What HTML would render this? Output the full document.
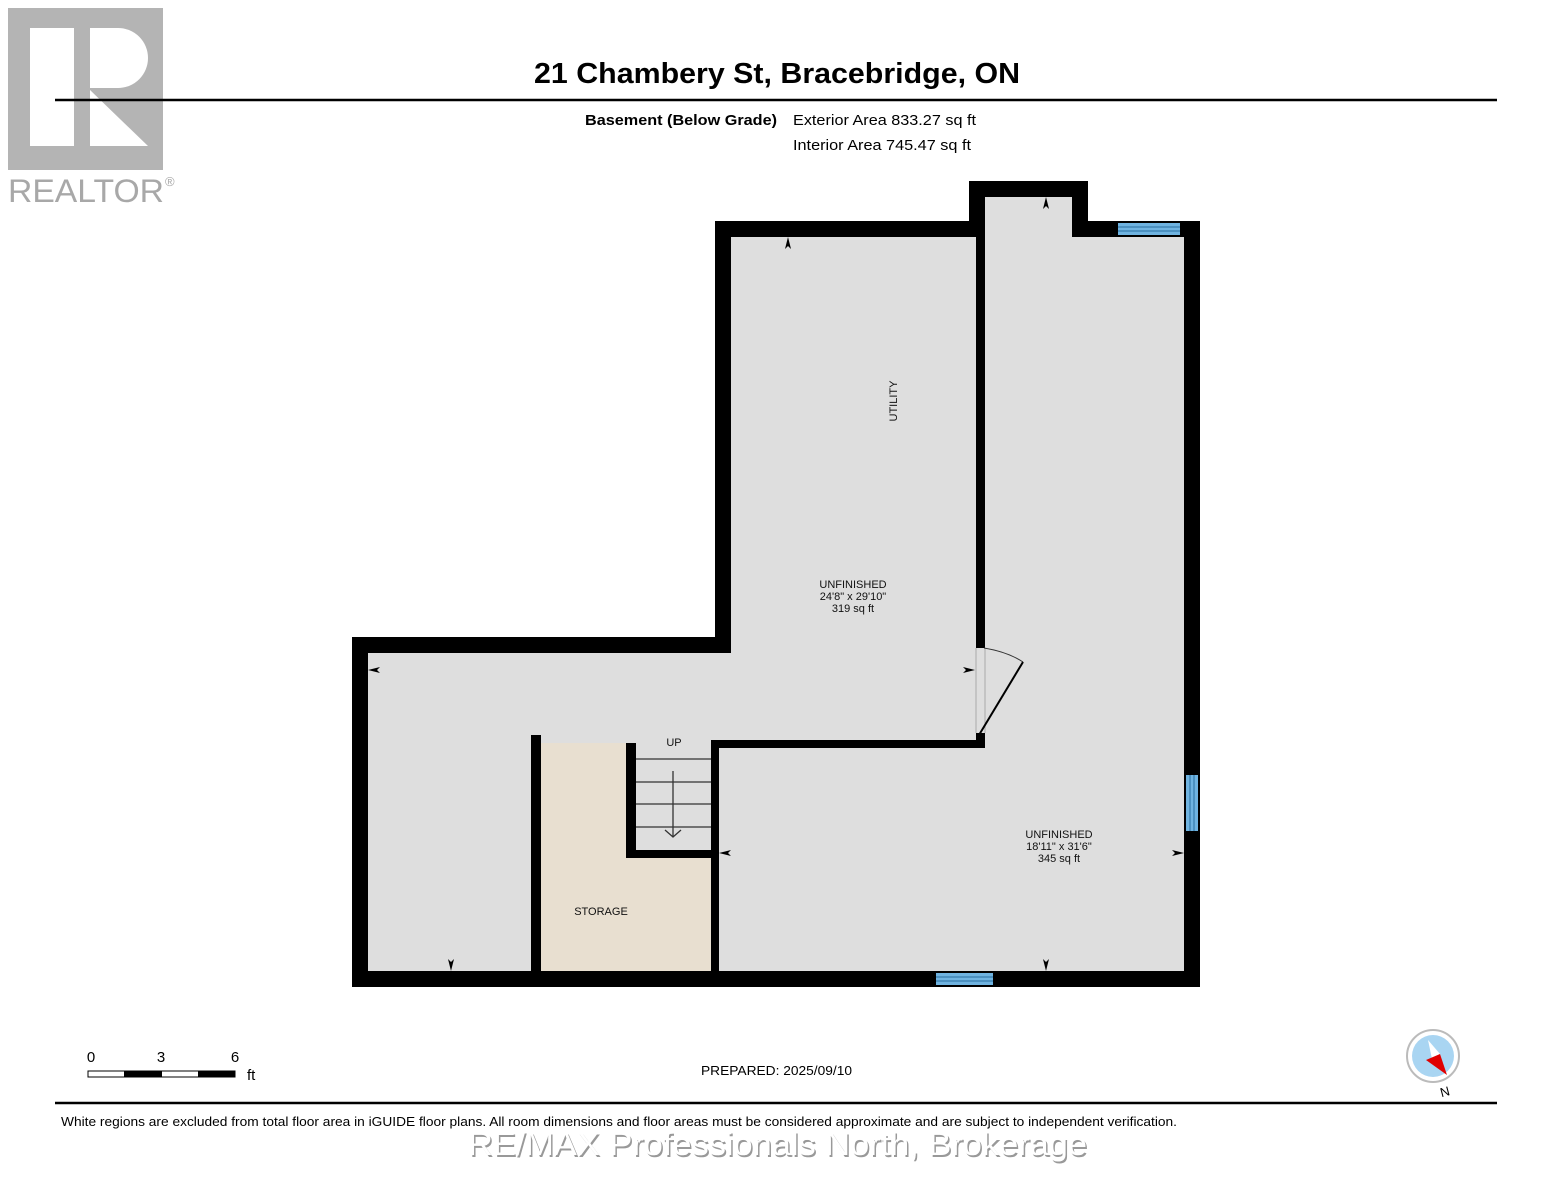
<!DOCTYPE html>
<html><head><meta charset="utf-8"><style>
html,body{margin:0;padding:0;background:#fff;width:1553px;height:1200px;overflow:hidden}
svg{display:block}
text{font-family:"Liberation Sans",Arial,sans-serif}
</style></head><body>
<svg width="1553" height="1200" viewBox="0 0 1553 1200" xmlns="http://www.w3.org/2000/svg">
<rect x="8" y="8" width="155" height="162" fill="#b4b4b4"/>
<rect x="30" y="28" width="44" height="118" fill="#fff"/>
<path d="M90 28 H118 A30 30 0 0 1 118 88 H90 Z" fill="#fff"/>
<path d="M90 90 L148 146 H90 Z" fill="#fff"/>
<text x="8" y="202" font-size="32" fill="#a8a8a8" textLength="156" lengthAdjust="spacingAndGlyphs">REALTOR</text>
<text x="165" y="186" font-size="13" fill="#a8a8a8">®</text>
<line x1="55" y1="100" x2="1497" y2="100" stroke="#000" stroke-width="2.5"/>
<text x="534" y="83" font-size="29" font-weight="bold" textLength="486" lengthAdjust="spacingAndGlyphs">21 Chambery St, Bracebridge, ON</text>
<text x="585" y="125" font-size="15" font-weight="bold" textLength="192" lengthAdjust="spacingAndGlyphs">Basement (Below Grade)</text>
<text x="793" y="125" font-size="15" textLength="183" lengthAdjust="spacingAndGlyphs">Exterior Area 833.27 sq ft</text>
<text x="793" y="150" font-size="15" textLength="178" lengthAdjust="spacingAndGlyphs">Interior Area 745.47 sq ft</text>

<path d="M352 637 H715 V221 H969 V181 H1088 V221 H1200 V987 H352 Z" fill="#dedede"/>
<path d="M541 743 H626 V858 H711 V971 H541 Z" fill="#e8dfd0"/>
<g fill="#000">
<rect x="352" y="637" width="16" height="350"/>
<rect x="352" y="637" width="379" height="16"/>
<rect x="715" y="221" width="16" height="432"/>
<rect x="715" y="221" width="270" height="16"/>
<rect x="969" y="181" width="16" height="56"/>
<rect x="976" y="181" width="9" height="467"/>
<rect x="969" y="181" width="119" height="16"/>
<rect x="1072" y="181" width="16" height="56"/>
<rect x="1072" y="221" width="128" height="16"/>
<rect x="1184" y="221" width="16" height="766"/>
<rect x="352" y="971" width="848" height="16"/>
<rect x="711" y="740" width="274" height="8"/>
<rect x="976" y="733" width="9" height="15"/>
<rect x="711" y="740" width="8" height="231"/>
<rect x="531" y="735" width="10" height="236"/>
<rect x="626" y="743" width="10" height="115"/>
<rect x="626" y="850" width="93" height="8"/>
</g>
<g fill="#6fb3e0">
<rect x="1118" y="223" width="62" height="12"/>
<rect x="1186" y="775" width="12" height="56"/>
<rect x="936" y="973" width="57" height="12"/>
</g>
<g stroke="#2a6f9f" stroke-width="1">
<line x1="1118" y1="227" x2="1180" y2="227"/><line x1="1118" y1="231" x2="1180" y2="231"/>
<line x1="1190" y1="775" x2="1190" y2="831"/><line x1="1194" y1="775" x2="1194" y2="831"/>
<line x1="936" y1="977" x2="993" y2="977"/><line x1="936" y1="981" x2="993" y2="981"/>
</g>
<line x1="976" y1="648" x2="976" y2="733" stroke="#aaa" stroke-width="1"/>
<line x1="985" y1="648" x2="985" y2="733" stroke="#aaa" stroke-width="1"/>
<path d="M984 648 Q1008 652 1023 662" fill="none" stroke="#333" stroke-width="1"/>
<line x1="1023" y1="662" x2="979" y2="735" stroke="#000" stroke-width="2"/>
<g stroke="#333" stroke-width="1.3">
<line x1="636" y1="759" x2="711" y2="759"/>
<line x1="636" y1="782" x2="711" y2="782"/>
<line x1="636" y1="804" x2="711" y2="804"/>
<line x1="636" y1="827" x2="711" y2="827"/>
<line x1="673" y1="771" x2="673" y2="837"/>
<polyline points="665,830 673,837 681,830" fill="none"/>
</g>
<g fill="#000">
<path d="M788 237 l-3 12 l3 -3 l3 3 z"/>
<path d="M1046 197 l-3 12 l3 -3 l3 3 z"/>
<path d="M368 670 l12 -3 l-3 3 l3 3 z"/>
<path d="M975 670 l-12 -3 l3 3 l-3 3 z"/>
<path d="M719 853 l12 -3 l-3 3 l3 3 z"/>
<path d="M1184 853 l-12 -3 l3 3 l-3 3 z"/>
<path d="M451 971 l-3 -12 l3 3 l3 -3 z"/>
<path d="M1046 971 l-3 -12 l3 3 l3 -3 z"/>
</g>
<g font-size="11" text-anchor="middle" fill="#111">
<text x="897" y="401" transform="rotate(-90 897 401)">UTILITY</text>
<text x="853" y="588">UNFINISHED</text>
<text x="853" y="600">24'8" x 29'10"</text>
<text x="853" y="612">319 sq ft</text>
<text x="1059" y="838">UNFINISHED</text>
<text x="1059" y="850">18'11" x 31'6"</text>
<text x="1059" y="862">345 sq ft</text>
<text x="601" y="915">STORAGE</text>
<text x="674" y="746">UP</text>
</g>
<text x="91" y="1062" font-size="15" text-anchor="middle">0</text>
<text x="161" y="1062" font-size="15" text-anchor="middle">3</text>
<text x="235" y="1062" font-size="15" text-anchor="middle">6</text>
<text x="247" y="1080" font-size="15">ft</text>
<rect x="88" y="1071" width="147" height="6" fill="#fff" stroke="#000" stroke-width="1"/>
<rect x="124" y="1071" width="38" height="6" fill="#000"/>
<rect x="198" y="1071" width="37" height="6" fill="#000"/>
<text x="701" y="1075" font-size="13" textLength="151" lengthAdjust="spacingAndGlyphs">PREPARED: 2025/09/10</text>
<circle cx="1433" cy="1056" r="26" fill="#fff" stroke="#bbb" stroke-width="2"/>
<circle cx="1433" cy="1056" r="21" fill="#a9d5f2"/>
<path d="M1428 1040 L1440 1054 L1432 1059 Z" fill="#fff"/>
<path d="M1440 1054 L1447 1075 L1426 1060 Z" fill="#e00000"/>
<text x="1446" y="1096" font-size="13" text-anchor="middle" transform="rotate(-15 1446 1096)">N</text>
<line x1="55" y1="1103" x2="1497" y2="1103" stroke="#000" stroke-width="2.5"/>
<text x="61" y="1126" font-size="13" textLength="1116" lengthAdjust="spacingAndGlyphs">White regions are excluded from total floor area in iGUIDE floor plans. All room dimensions and floor areas must be considered approximate and are subject to independent verification.</text>
<text x="468" y="1155" font-size="32" fill="#999" textLength="619" lengthAdjust="spacingAndGlyphs" transform="translate(1.5,2)" font-family="DejaVu Sans">RE/MAX Professionals North, Brokerage</text>
<text x="468" y="1155" font-size="32" fill="#fff" textLength="619" lengthAdjust="spacingAndGlyphs" font-family="DejaVu Sans">RE/MAX Professionals North, Brokerage</text>
</svg>
</body></html>
